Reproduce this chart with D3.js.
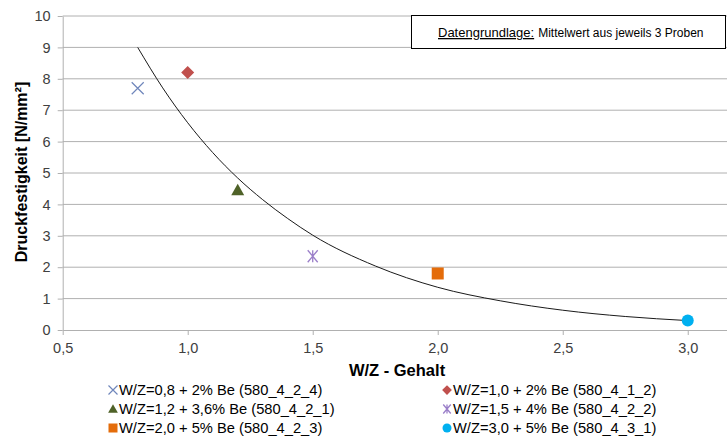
<!DOCTYPE html>
<html><head><meta charset="utf-8">
<script src="https://cdn.jsdelivr.net/npm/d3@7"></script>
<style>body{margin:0;background:#fff}svg{display:block}text{font-family:"Liberation Sans",Arial,sans-serif}</style>
</head><body><svg id="c" width="727" height="438"></svg>
<script>
// Data
const seriesNames = [
  "W/Z=0,8 + 2% Be (580_4_2_4)",
  "W/Z=1,0 + 2% Be (580_4_1_2)",
  "W/Z=1,2 + 3,6% Be (580_4_2_1)",
  "W/Z=1,5 + 4% Be (580_4_2_2)",
  "W/Z=2,0 + 5% Be (580_4_2_3)",
  "W/Z=3,0 + 5% Be (580_4_3_1)"
];
const xValues = [0.8, 1.0, 1.2, 1.5, 2.0, 3.0];
const yValues = [7.7, 8.2, 4.45, 2.35, 1.8, 0.3];
const markerTypes = ["x", "diamond", "triangle", "asterisk", "square", "circle"];
const markerColors = ["#6f86bb", "#c0504d", "#4f6228", "#9b7fc9", "#e46c0a", "#00b0f0"];
// trendline points
const trendX = [0.8, 0.9, 1.0, 1.1, 1.2, 1.3, 1.4, 1.5, 1.75, 2.0, 2.25, 2.5, 2.75, 3.0];
const trendY = [9.0, 7.71, 6.6, 5.65, 4.84, 4.15, 3.55, 3.02, 2.04, 1.36, 0.93, 0.63, 0.43, 0.3];
const xTicks = [0.5, 1.0, 1.5, 2.0, 2.5, 3.0];
const yTicks = [0,1,2,3,4,5,6,7,8,9,10];
const noteLabel = "Datengrundlage:";
const noteText = "Mittelwert aus jeweils 3 Proben";
const xTitle = "W/Z - Gehalt";
const yTitle = "Druckfestigkeit [N/mm²]";

const svg = d3.select("#c");
const x = d3.scaleLinear().domain([0.5, 3.157]).range([62.7, 727]);
const y = d3.scaleLinear().domain([0, 10]).range([330, 16]);
const fmt = d => d.toFixed(1).replace(".", ",");

// gridlines
svg.append("g").selectAll("line").data(yTicks.filter(d => d > 0)).join("line")
  .attr("x1", x(0.5)).attr("x2", 727).attr("y1", d => y(d)).attr("y2", d => y(d))
  .attr("stroke", "#b0b0b0").attr("stroke-width", 1);

// y axis
const ya = svg.append("g").attr("transform", `translate(${x(0.5)},0)`)
  .call(d3.axisLeft(y).tickValues(yTicks).tickSize(5).tickSizeOuter(0).tickFormat(d3.format("d")));
ya.select(".domain").attr("stroke", "#b0b0b0");
ya.selectAll(".tick line").attr("stroke", "#b0b0b0");
ya.selectAll(".tick text").attr("font-size", 14.5).attr("fill", "#404040").attr("x", -12)
  .attr("font-family", "Liberation Sans, Arial, sans-serif");

// x axis
const xa = svg.append("g").attr("transform", `translate(0,${y(0)})`)
  .call(d3.axisBottom(x).tickValues(xTicks).tickSize(5).tickSizeOuter(0).tickFormat(fmt));
xa.select(".domain").attr("stroke", "#b0b0b0");
xa.selectAll(".tick line").attr("stroke", "#b0b0b0");
xa.selectAll(".tick text").attr("font-size", 14.5).attr("fill", "#404040").attr("y", 13)
  .attr("font-family", "Liberation Sans, Arial, sans-serif");

// trendline
const trend = trendX.map((d, i) => [d, trendY[i]]);
svg.append("path").datum(trend)
  .attr("d", d3.line().x(d => x(d[0])).y(d => y(d[1])).curve(d3.curveMonotoneX))
  .attr("fill", "none").attr("stroke", "#1a1a1a").attr("stroke-width", 1);

// marker drawer
function drawMarker(g, type, color, s) {
  s = s || 1;
  if (type === "x") {
    g.append("path").attr("d", `M${-6*s},${-6*s}L${6*s},${6*s}M${-6*s},${6*s}L${6*s},${-6*s}`)
      .attr("stroke", color).attr("stroke-width", 1.2).attr("fill", "none");
  } else if (type === "diamond") {
    g.append("path").attr("d", `M0,${-6.5*s}L${6.5*s},0L0,${6.5*s}L${-6.5*s},0Z`).attr("fill", color);
  } else if (type === "triangle") {
    g.append("path").attr("d", `M0,${-6.5*s}L${6.5*s},${5*s}L${-6.5*s},${5*s}Z`).attr("fill", color);
  } else if (type === "asterisk") {
    g.append("path").attr("d", `M${-5*s},${-6*s}L${5*s},${6*s}M${-5*s},${6*s}L${5*s},${-6*s}M0,${-6*s}L0,${6*s}`)
      .attr("stroke", color).attr("stroke-width", 1.3).attr("fill", "none");
  } else if (type === "square") {
    g.append("rect").attr("x", -6*s).attr("y", -6*s).attr("width", 12*s).attr("height", 12*s).attr("fill", color);
  } else if (type === "circle") {
    g.append("circle").attr("r", 6*s).attr("fill", color);
  }
}

// points
xValues.forEach((xv, i) => {
  const g = svg.append("g").attr("transform", `translate(${x(xv)},${y(yValues[i])})`);
  drawMarker(g, markerTypes[i], markerColors[i], 1);
});

// axis titles
svg.append("text").attr("x", 397).attr("y", 376).attr("text-anchor", "middle")
  .attr("font-size", 16.5).attr("font-weight", "bold").attr("fill", "#000").text(xTitle);
svg.append("text").attr("transform", "translate(27,172) rotate(-90)").attr("text-anchor", "middle")
  .attr("font-size", 16).attr("font-weight", "bold").attr("fill", "#000").text(yTitle);

// note box
svg.append("rect").attr("x", 411.5).attr("y", 15.5).attr("width", 314).attr("height", 33)
  .attr("fill", "#fff").attr("stroke", "#000").attr("stroke-width", 1);
const nt = svg.append("text").attr("x", 438).attr("y", 37).attr("fill", "#000");
nt.append("tspan").attr("font-size", 13).attr("text-decoration", "underline").text(noteLabel);
nt.append("tspan").attr("font-size", 12).attr("dx", 4).text(noteText);

// legend
const legCols = [113, 447];
const legRows = [390, 409, 428];
seriesNames.forEach((name, i) => {
  const cx = legCols[i % 2], cy = legRows[Math.floor(i / 2)];
  const g = svg.append("g").attr("transform", `translate(${cx},${cy})`);
  drawMarker(g, markerTypes[i], markerColors[i], 0.75);
  svg.append("text").attr("x", cx + 6).attr("y", cy + 5).attr("font-size", 14.7)
    .attr("fill", "#000").text(name);
});
</script></body></html>
